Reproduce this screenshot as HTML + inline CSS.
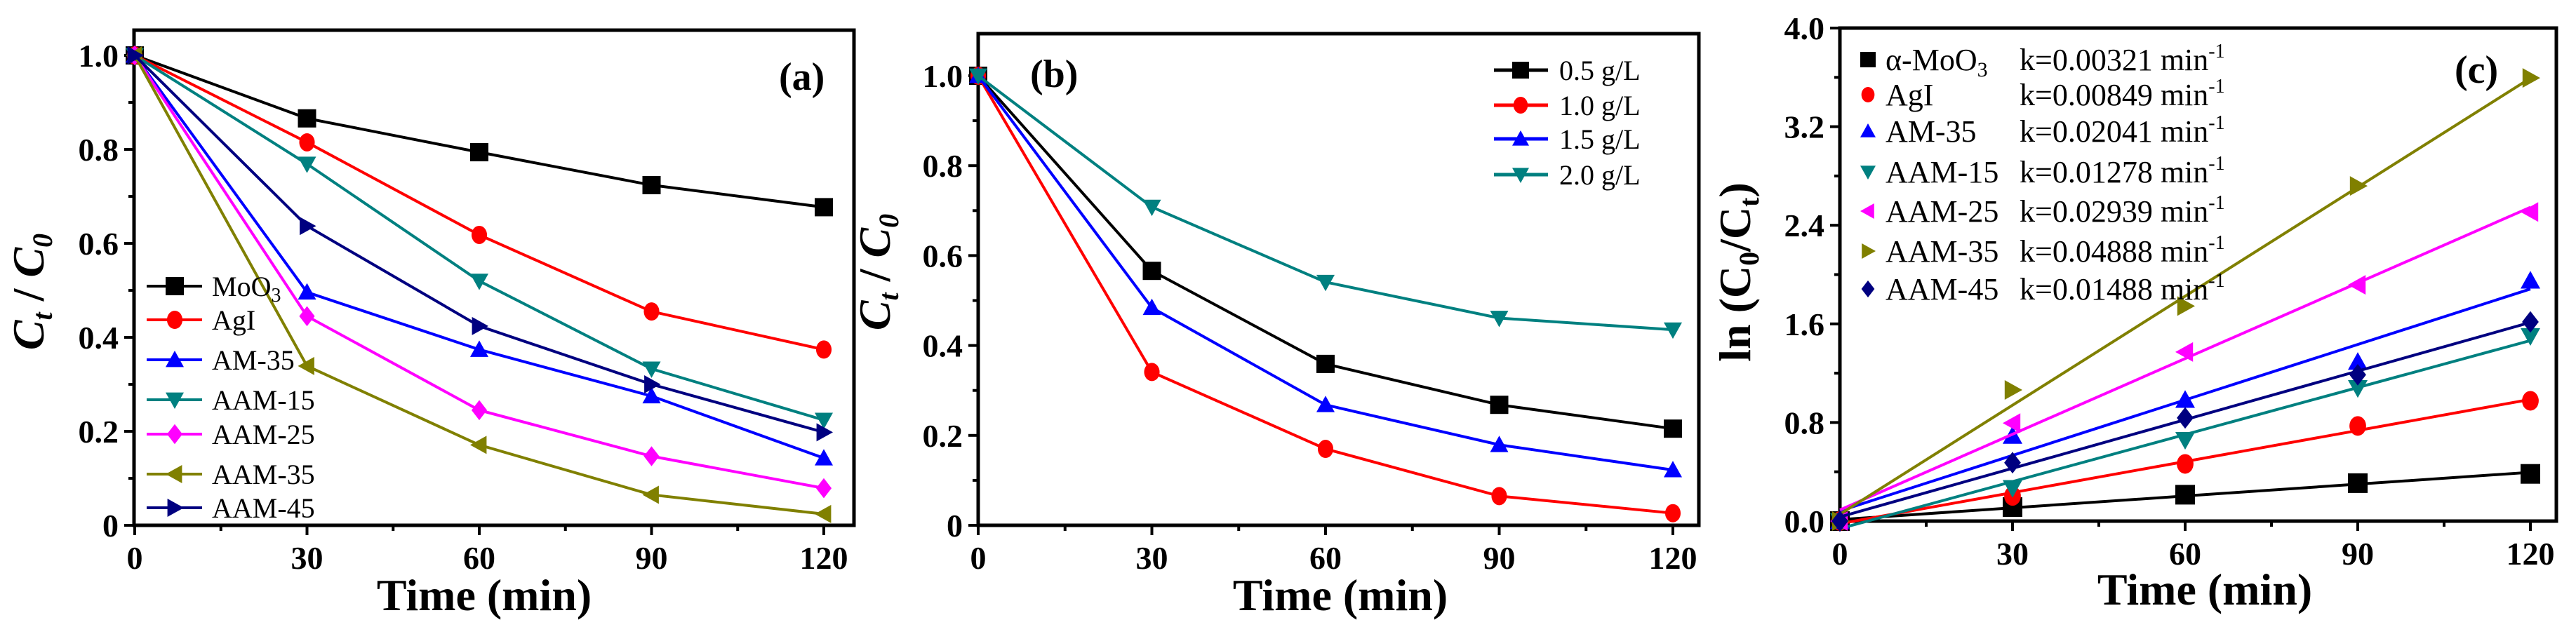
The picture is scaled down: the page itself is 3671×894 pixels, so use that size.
<!DOCTYPE html>
<html><head><meta charset="utf-8"><style>
html,body{margin:0;padding:0;background:#fff;}
svg{display:block;font-family:"Liberation Serif",serif;}
</style></head><body>
<svg id="fig" width="3671" height="894" viewBox="0 0 3671 894" xmlns="http://www.w3.org/2000/svg"></svg>
<script>
// ---- data ----
const times = [0, 30, 60, 90, 120];
// panel a
const aNames = ["MoO3", "AgI", "AM-35", "AAM-15", "AAM-25", "AAM-35", "AAM-45"];
const aMoO3 = [1, 0.866, 0.794, 0.724, 0.677];
const aAgI = [1, 0.815, 0.618, 0.455, 0.374];
const aAM35 = [1, 0.496, 0.374, 0.275, 0.143];
const aAAM15 = [1, 0.769, 0.52, 0.333, 0.224];
const aAAM25 = [1, 0.445, 0.245, 0.147, 0.079];
const aAAM35 = [1, 0.339, 0.171, 0.065, 0.024];
const aAAM45 = [1, 0.637, 0.424, 0.300, 0.198];
// panel b
const bNames = ["0.5 g/L", "1.0 g/L", "1.5 g/L", "2.0 g/L"];
const b05 = [1, 0.566, 0.359, 0.268, 0.215];
const b10 = [1, 0.341, 0.170, 0.065, 0.027];
const b15 = [1, 0.484, 0.268, 0.179, 0.123];
const b20 = [1, 0.708, 0.541, 0.461, 0.435];
// panel c
const cNames = ["α-MoO", "AgI", "AM-35", "AAM-15", "AAM-25", "AAM-35", "AAM-45"];
const cK = ["0.00321", "0.00849", "0.02041", "0.01278", "0.02939", "0.04888", "0.01488"];
const cMoO3 = [0, 0.114, 0.214, 0.308, 0.383];
const cAgI = [0, 0.204, 0.464, 0.772, 0.976];
const cAM35 = [0, 0.691, 0.983, 1.291, 1.950];
const cAAM15 = [0, 0.269, 0.659, 1.080, 1.502];
const cAAM25 = [0, 0.795, 1.372, 1.917, 2.508];
const cAAM35 = [0, 1.064, 1.745, 2.719, 3.595];
const cAAM45 = [0, 0.474, 0.837, 1.187, 1.616];
const xTicks = [0, 30, 60, 90, 120];
const abYTicks = ["0", "0.2", "0.4", "0.6", "0.8", "1.0"];
const cYTicks = ["0.0", "0.8", "1.6", "2.4", "3.2", "4.0"];

const NS = "http://www.w3.org/2000/svg";
const svg = document.getElementById("fig");
function mk(tag, attrs, parent) {
  const e = document.createElementNS(NS, tag);
  for (const k in attrs) e.setAttribute(k, attrs[k]);
  (parent || svg).appendChild(e);
  return e;
}
const colors = {black:"#000000", red:"#ff0000", blue:"#0000ff", teal:"#008080", magenta:"#ff00ff", olive:"#808000", navy:"#000080"};

function marker(g, shape, x, y, s, color) {
  const h = s / 2;
  let el;
  if (shape === "square") el = mk("rect", {x: x - h, y: y - h, width: s, height: s, fill: color}, g);
  else if (shape === "circle") el = mk("ellipse", {cx: x, cy: y, rx: h * 0.85, ry: h, fill: color}, g);
  else {
    let pts;
    if (shape === "up") pts = [[x, y - h], [x + h, y + h * 0.8], [x - h, y + h * 0.8]];
    else if (shape === "down") pts = [[x - h, y - h * 0.8], [x + h, y - h * 0.8], [x, y + h]];
    else if (shape === "diamond") pts = [[x, y - h * 1.1], [x + h * 0.85, y], [x, y + h * 1.1], [x - h * 0.85, y]];
    else if (shape === "left") pts = [[x - h, y], [x + h * 0.8, y - h], [x + h * 0.8, y + h]];
    else pts = [[x + h, y], [x - h * 0.8, y - h], [x - h * 0.8, y + h]];
    el = mk("polygon", {points: pts.map(p => p.join(",")).join(" "), fill: color}, g);
  }
  
  
  return el;
}

function axes(P, yVals, yLabels, yMinorStep, yTitleHTML, letter) {
  const g = mk("g", {});
  
  
  for (let t = 0; t <= 120; t += 15) {
    const major = t % 30 === 0;
    const tk = mk("line", {x1: P.sx(t), x2: P.sx(t), y1: P.bottom, y2: P.bottom + (major ? 14 : 8), stroke: "#000", "stroke-width": 4}, g);
    
    
  }
  xTicks.forEach(t => {
    const tx = mk("text", {x: P.sx(t), y: P.bottom + 62, "text-anchor": "middle", "font-size": 46, "font-weight": "bold"}, g);
    tx.textContent = t;
    
    
  });
  for (let v = 0; v <= P.ymax + 1e-9; v += yMinorStep) {
    const major = Math.abs(v / (yMinorStep * 2) - Math.round(v / (yMinorStep * 2))) < 1e-6;
    const tk = mk("line", {x1: P.left, x2: P.left - (major ? 14 : 8), y1: P.sy(v), y2: P.sy(v), stroke: "#000", "stroke-width": 4}, g);
    
    
  }
  yVals.forEach((v, i) => {
    const tx = mk("text", {x: P.left - 22, y: P.sy(v) + 16, "text-anchor": "end", "font-size": 46, "font-weight": "bold"}, g);
    tx.textContent = yLabels[i];
    
    
  });
  const fr = mk("rect", {x: P.left, y: P.top, width: P.right - P.left, height: P.bottom - P.top, fill: "none", stroke: "#000", "stroke-width": 5}, g);
  
  
  const xt = mk("text", {x: P.xtx, y: P.xty, "text-anchor": "middle", "font-size": 64, "font-weight": "bold"}, g);
  xt.textContent = "Time (min)";
  
  
  const yt = mk("text", {x: 0, y: 0, "text-anchor": "middle", "font-size": 64, "font-weight": "bold", transform: `translate(${P.ytx},${P.yty}) rotate(-90)`}, g);
  yt.innerHTML = yTitleHTML;
  
  
  const lt = mk("text", {x: P.lx, y: P.ly, "font-size": 56, "font-weight": "bold"}, g);
  lt.textContent = "(" + letter + ")";
  
  
  return g;
}

function panel(left, right, top, bottom, x0px, x120px, ymax, ytopVal, ytopPx) {
  const ky = (bottom - ytopPx) / ytopVal;
  return {left, right, top, bottom, ymax,
    sx: t => x0px + (x120px - x0px) * t / 120,
    sy: v => bottom - v * ky};
}

// ---- panel a ----
const A = panel(191, 1217, 43, 749, 192, 1174, 1.05, 1.0, 79);
Object.assign(A, {xtx: 690, xty: 870, ytx: 62, yty: 416, lx: 1110, ly: 128});
const ga = axes(A, [0,0.2,0.4,0.6,0.8,1.0], abYTicks, 0.1,
  '<tspan font-style="italic">C</tspan><tspan font-style="italic" font-size="40" dy="12">t</tspan><tspan dy="-12"> / </tspan><tspan font-style="italic">C</tspan><tspan font-style="italic" font-size="40" dy="12">0</tspan>', "a");
const aSeries = [aMoO3, aAgI, aAM35, aAAM15, aAAM25, aAAM35, aAAM45];
const aCols = [colors.black, colors.red, colors.blue, colors.teal, colors.magenta, colors.olive, colors.navy];
const aShapes = ["square", "circle", "up", "down", "diamond", "left", "right"];
aSeries.forEach((s, i) => {
  const pl = mk("polyline", {points: s.map((v, j) => A.sx(times[j]) + "," + A.sy(v)).join(" "), fill: "none", stroke: aCols[i], "stroke-width": 4}, ga);
  
  
  s.forEach((v, j) => marker(ga, aShapes[i], A.sx(times[j]), A.sy(v), 26, aCols[i]));
});
const aLegY = [408, 456, 513, 570, 619, 676, 724];
aNames.forEach((n, i) => {
  const lg = mk("g", {}, ga);
  
  
  mk("line", {x1: 209, x2: 288, y1: aLegY[i], y2: aLegY[i], stroke: aCols[i], "stroke-width": 4}, lg);
  marker(lg, aShapes[i], 249, aLegY[i], 26, aCols[i]);
  const t = mk("text", {x: 302, y: aLegY[i] + 14, "font-size": 40}, lg);
  if (i === 0) t.innerHTML = 'MoO<tspan font-size="28" dy="8">3</tspan>';
  else t.textContent = n;
});

// ---- panel b ----
const B = panel(1394, 2421, 48, 749, 1394, 2384, 1.09, 1.0, 108);
Object.assign(B, {xtx: 1910, xty: 870, ytx: 1268, yty: 388, lx: 1468, ly: 124});
const gb = axes(B, [0,0.2,0.4,0.6,0.8,1.0], abYTicks, 0.1,
  '<tspan font-style="italic">C</tspan><tspan font-style="italic" font-size="40" dy="12">t</tspan><tspan dy="-12"> / </tspan><tspan font-style="italic">C</tspan><tspan font-style="italic" font-size="40" dy="12">0</tspan>', "b");
const bSeries = [b05, b10, b15, b20];
const bCols = [colors.black, colors.red, colors.blue, colors.teal];
const bShapes = ["square", "circle", "up", "down"];
bSeries.forEach((s, i) => {
  const pl = mk("polyline", {points: s.map((v, j) => B.sx(times[j]) + "," + B.sy(v)).join(" "), fill: "none", stroke: bCols[i], "stroke-width": 4}, gb);
  
  
  s.forEach((v, j) => marker(gb, bShapes[i], B.sx(times[j]), B.sy(v), 26, bCols[i]));
});
const bLegY = [100, 150, 198, 249];
bNames.forEach((n, i) => {
  const lg = mk("g", {}, gb);
  
  
  mk("line", {x1: 2129, x2: 2206, y1: bLegY[i], y2: bLegY[i], stroke: bCols[i], "stroke-width": 5}, lg);
  marker(lg, bShapes[i], 2167, bLegY[i], 24, bCols[i]);
  const t = mk("text", {x: 2222, y: bLegY[i] + 14, "font-size": 40}, lg);
  t.textContent = n;
});

// ---- panel c ----
const C = panel(2622, 3643, 40, 743, 2622, 3606, 4.0, 4.0, 40);
Object.assign(C, {xtx: 3142, xty: 862, ytx: 2494, yty: 388, lx: 3498, ly: 118});
const gc = axes(C, [0,0.8,1.6,2.4,3.2,4.0], cYTicks, 0.4,
  'ln (C<tspan font-size="40" dy="12">0</tspan><tspan dy="-12">/C</tspan><tspan font-size="40" dy="12">t</tspan><tspan dy="-12">)</tspan>', "c");
const cSeries = [cMoO3, cAgI, cAM35, cAAM15, cAAM25, cAAM35, cAAM45];
const cShapes = ["square", "circle", "up", "down", "left", "right", "diamond"];
cSeries.forEach((s, i) => {
  const mx = times.reduce((a, b) => a + b, 0) / times.length;
  const my = s.reduce((a, b) => a + b, 0) / s.length;
  let sxy = 0, sxx = 0;
  times.forEach((t, j) => { sxy += (t - mx) * (s[j] - my); sxx += (t - mx) * (t - mx); });
  const slope = sxy / sxx, icpt = my - slope * mx;
  const fl = mk("line", {x1: C.sx(0), y1: C.sy(icpt), x2: C.sx(120), y2: C.sy(icpt + slope * 120), stroke: aCols[i], "stroke-width": 4}, gc);
  
  
  s.forEach((v, j) => marker(gc, cShapes[i], C.sx(times[j]), C.sy(v), 28, aCols[i]));
});
const cLegBase = [100, 150, 202, 260, 316, 373, 427];
cNames.forEach((n, i) => {
  const lg = mk("g", {}, gc);
  
  
  marker(lg, cShapes[i], 2662, cLegBase[i] - 15, 22, aCols[i]);
  const t = mk("text", {x: 2687, y: cLegBase[i], "font-size": 44}, lg);
  if (i === 0) t.innerHTML = 'α-MoO<tspan font-size="30" dy="9">3</tspan>';
  else t.textContent = n;
  const k = mk("text", {x: 2878, y: cLegBase[i], "font-size": 44}, lg);
  k.innerHTML = 'k=' + cK[i] + ' min<tspan font-size="28" dy="-18">-1</tspan>';
});
</script>
</body></html>
